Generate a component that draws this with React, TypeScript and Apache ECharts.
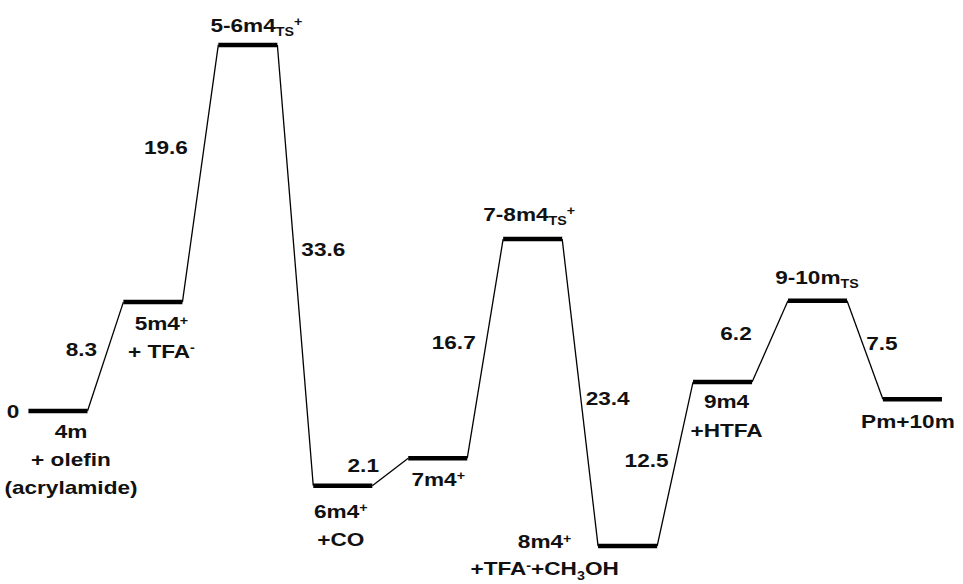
import React, { useEffect, useRef } from "react";
import * as echarts from "echarts";

// ---- data ----
const stateNames = ["4m", "5m4+", "5-6m4TS+", "6m4+", "7m4+", "7-8m4TS+", "8m4+", "9m4", "9-10mTS", "Pm+10m"];
const stateLabelTexts = [
  "{b|4m}\n{b|+ olefin}\n{b|(acrylamide)}",
  "{b|5m4}{sup|+}\n{b|+ TFA}{sup|-}",
  "{b|5-6m4}{sub|TS}{sup|+}",
  "{b|6m4}{sup|+}\n{b|+CO}",
  "{b|7m4}{sup|+}",
  "{b|7-8m4}{sub|TS}{sup|+}",
  "{b|8m4}{sup|+}\n{b|+TFA}{sup|-}{b|+CH}{sub|3}{b|OH}",
  "{b|9m4}\n{b|+HTFA}",
  "{b|9-10m}{sub|TS}",
  "{b|Pm+10m}",
];
const startEnergy = 0;
const stepChanges = [8.3, 19.6, -33.6, 2.1, 16.7, -23.4, 12.5, 6.2, -7.5];
const stepLabels = ["8.3", "19.6", "33.6", "2.1", "16.7", "23.4", "12.5", "6.2", "7.5"];
const startLabel = "0";

// energies derived from the step changes
const energies: number[] = [startEnergy];
stepChanges.forEach((d, i) => {
  energies.push(Math.round((energies[i] + d) * 10) / 10);
});

// ---- layout (pixels offsets, not data) ----
const HALF = 0.311;
const FONT = "Liberation Sans, Arial, Helvetica, sans-serif";
const FS = 19;
const SX = 1.19;
// [dx, dy (first line centre), lineHeight]
const stateLabelLayout: [number, number, number][] = [
  [13, 20, 28.3],
  [8.5, 21.5, 27.5],
  [8.5, -20, 26],
  [-2, 25.5, 28],
  [0.5, 21, 26],
  [-3.5, -25, 26],
  [-83, -4.5, 27],
  [4, 19.5, 29],
  [-0.5, -23.5, 26],
  [-4.5, 22, 26],
];
const stepLabelLayout: [number, number][] = [
  [-24, -7.5],
  [-34.5, -26],
  [28, -16.5],
  [-27, -6.5],
  [-31.5, -6.5],
  [27.5, 6],
  [-28.5, -3.5],
  [-34, -8.5],
  [17, -7],
];
const startLabelLayout: [number, number] = [-45, 0];

const rich = {
  b: { fontSize: FS, fontWeight: "bold", fontFamily: FONT, fill: "#111" },
  sup: { fontSize: 12, fontWeight: "bold", fontFamily: FONT, fill: "#111", padding: [0, 0, 6, 0] },
  sub: { fontSize: 12, fontWeight: "bold", fontFamily: FONT, fill: "#111", padding: [14, 0, 0, 0] },
};

export default function App() {
  const ref = useRef<HTMLDivElement>(null);
  useEffect(() => {
    if (!ref.current) return;
    const chart = echarts.init(ref.current, null, { renderer: "svg" });
    const levelData = energies.map((e, i) => [i, e]);
    const stepData = stepChanges.map((_, i) => [i, energies[i], energies[i + 1]]);
    chart.setOption({
      animation: false,
      backgroundColor: "#ffffff",
      grid: { left: 10.5, right: 3.1, top: 17.4, bottom: 15.6, containLabel: false },
      xAxis: { type: "value", min: -0.5, max: 9.5, show: false },
      yAxis: { type: "value", min: -12, max: 30, show: false },
      series: [
        {
          type: "custom",
          name: "levels",
          silent: true,
          data: levelData,
          encode: { x: 0, y: 1 },
          renderItem: (params: any, api: any) => {
            const i = api.value(0);
            const e = api.value(1);
            const p1 = api.coord([i - HALF, e]);
            const p2 = api.coord([i + HALF, e]);
            return {
              type: "line",
              shape: { x1: p1[0], y1: p1[1], x2: p2[0], y2: p2[1] },
              style: { stroke: "#000", lineWidth: 4.5 },
            };
          },
        },
        {
          type: "custom",
          name: "connectors",
          silent: true,
          data: stepData,
          encode: { x: 0, y: [1, 2] },
          renderItem: (params: any, api: any) => {
            const i = api.value(0);
            const p1 = api.coord([i + HALF, api.value(1)]);
            const p2 = api.coord([i + 1 - HALF, api.value(2)]);
            return {
              type: "line",
              shape: { x1: p1[0], y1: p1[1], x2: p2[0], y2: p2[1] },
              style: { stroke: "#000", lineWidth: 1.3 },
            };
          },
        },
        {
          type: "custom",
          name: "stepLabels",
          silent: true,
          data: stepData,
          encode: { x: 0, y: [1, 2] },
          renderItem: (params: any, api: any) => {
            const idx = params.dataIndex;
            const i = api.value(0);
            const p1 = api.coord([i + HALF, api.value(1)]);
            const p2 = api.coord([i + 1 - HALF, api.value(2)]);
            const [dx, dy] = stepLabelLayout[idx];
            return {
              type: "text",
              x: (p1[0] + p2[0]) / 2 + dx,
              y: (p1[1] + p2[1]) / 2 + dy,
              scaleX: SX,
              style: {
                text: stepLabels[idx],
                fontSize: FS,
                fontWeight: "bold",
                fontFamily: FONT,
                fill: "#111",
                align: "center",
                verticalAlign: "middle",
              },
            };
          },
        },
        {
          type: "custom",
          name: "stateLabels",
          silent: true,
          data: levelData,
          encode: { x: 0, y: 1 },
          renderItem: (params: any, api: any) => {
            const idx = params.dataIndex;
            const p = api.coord([api.value(0), api.value(1)]);
            const [dx, dy, lh] = stateLabelLayout[idx];
            const children: any[] = [
              {
                type: "text",
                x: p[0] + dx,
                y: p[1] + dy - lh / 2,
                scaleX: SX,
                style: {
                  text: stateLabelTexts[idx],
                  rich,
                  fontSize: FS,
                  fontWeight: "bold",
                  fontFamily: FONT,
                  fill: "#111",
                  lineHeight: lh,
                  align: "center",
                  verticalAlign: "top",
                },
              },
            ];
            if (idx === 0) {
              children.push({
                type: "text",
                x: p[0] + startLabelLayout[0],
                y: p[1] + startLabelLayout[1],
                scaleX: SX,
                style: {
                  text: startLabel,
                  fontSize: FS,
                  fontWeight: "bold",
                  fontFamily: FONT,
                  fill: "#111",
                  align: "center",
                  verticalAlign: "middle",
                },
              });
            }
            return { type: "group", children };
          },
        },
      ],
    });
    return () => chart.dispose();
  }, []);
  return (
    <div
      ref={ref}
      style={{ position: "fixed", left: 0, top: 0, width: 963, height: 584, background: "#fff" }}
      title={stateNames.join(", ")}
    />
  );
}
